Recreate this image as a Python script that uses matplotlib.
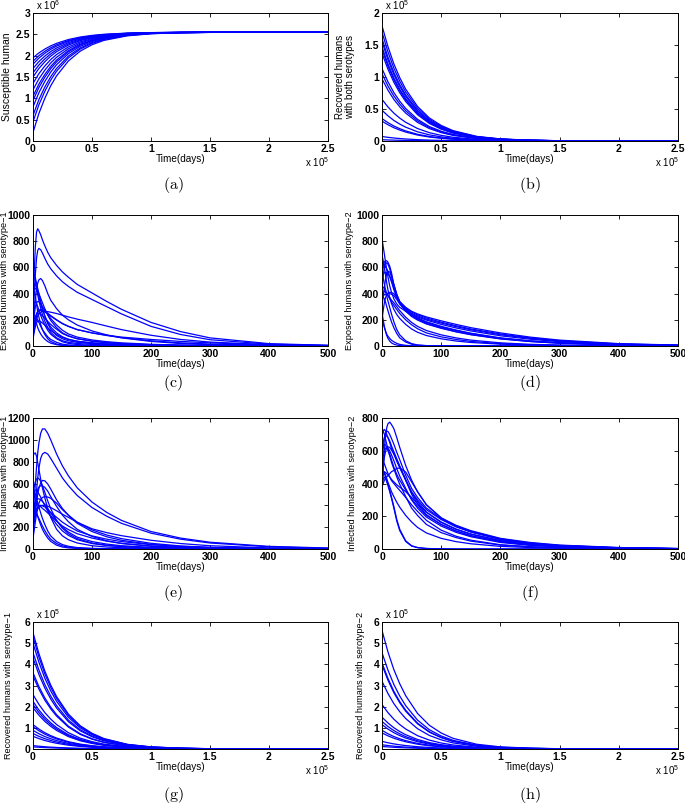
import numpy as np
import matplotlib
matplotlib.use("Agg")
import matplotlib.pyplot as plt

plt.rcParams["font.family"] = ["Liberation Sans", "DejaVu Sans"]
plt.rcParams["mathtext.fontset"] = "custom"
plt.rcParams["mathtext.rm"] = "Liberation Sans"
plt.rcParams["mathtext.it"] = "Liberation Sans:italic"

# ---- long runs: time in units of 1e5 days ----
t_long = [0, 0.05, 0.1, 0.15, 0.2, 0.3, 0.4, 0.5, 0.6, 0.8, 1.0, 1.25, 1.5, 2.0, 2.5]

# (a) susceptible humans, units of 1e6
s_start = [0.2, 0.45, 0.6, 0.8, 0.95, 1.05, 1.2, 1.35, 1.5, 1.6, 1.7, 1.8, 1.87, 1.95]
s_equil = 2.55
# share of the initial gap to equilibrium still left at each t_long
s_gap_left = [1, 0.81, 0.66, 0.535, 0.435, 0.287, 0.189, 0.125, 0.082, 0.036, 0.0155, 0.0055, 0.002, 0.0002, 0]

# recovered panels, units of 1e5; share of start value left at each t_long
rec_left = [1, 0.82, 0.67, 0.55, 0.45, 0.30, 0.20, 0.135, 0.09, 0.04, 0.018, 0.007, 0.0025, 0.0003, 0]
r_both_start = [1.8, 1.7, 1.6, 1.55, 1.47, 1.43, 1.37, 1.13, 1.05, 0.97, 0.65, 0.48, 0.35, 0.31, 0.07, 0.02]
r1_start = [5.5, 5.3, 5.0, 4.55, 4.3, 3.6, 3.45, 2.57, 2.25, 2.1, 1.95, 1.15, 1.05, 0.88, 0.73, 0.6, 0.16, 0.1]
r2_start = [5.6, 4.55, 4.07, 3.97, 3.2, 2.1, 1.5, 1.3, 1.15, 0.88, 0.76, 0.36, 0.2, 0.12]

# ---- short runs: time in days ----
t_short = [0, 2, 4, 6, 8, 10, 13, 16, 20, 25, 30, 40, 50, 60, 75, 100, 125, 150, 200, 250, 300, 400, 500]

exposed1 = [
    [300, 560, 760, 870, 895, 880, 850, 810, 765, 715, 675, 615, 565, 525, 470, 405, 340, 280, 180, 110, 62, 18, 5],
    [200, 380, 550, 670, 730, 745, 735, 710, 670, 625, 590, 535, 490, 455, 410, 355, 300, 245, 150, 88, 48, 14, 4],
    [150, 270, 360, 430, 480, 505, 515, 500, 460, 400, 350, 285, 235, 200, 160, 115, 85, 62, 35, 19, 10, 3, 1],
    [80, 120, 170, 205, 230, 245, 258, 264, 265, 262, 258, 248, 235, 222, 205, 180, 152, 125, 82, 50, 30, 10, 3],
    [120, 175, 220, 248, 265, 270, 272, 268, 260, 245, 228, 198, 170, 150, 125, 100, 80, 64, 40, 24, 15, 5, 2],
    [540, 545, 520, 480, 440, 400, 340, 290, 230, 170, 130, 80, 55, 40, 28, 18, 12, 9, 5, 3, 2, 1, 0],
    [460, 475, 470, 445, 410, 375, 320, 280, 230, 180, 145, 100, 70, 52, 36, 23, 15, 10, 6, 3, 2, 1, 0],
    [400, 425, 440, 435, 420, 400, 365, 330, 285, 235, 195, 140, 100, 78, 56, 36, 24, 16, 9, 5, 3, 1, 0],
    [300, 325, 340, 325, 300, 275, 235, 200, 160, 120, 90, 55, 32, 20, 11, 5, 3, 2, 1, 0, 0, 0, 0],
    [200, 220, 230, 215, 200, 180, 150, 125, 100, 70, 50, 28, 14, 8, 4, 2, 1, 0, 0, 0, 0, 0, 0],
    [100, 165, 210, 238, 250, 250, 242, 230, 212, 188, 165, 128, 95, 75, 55, 38, 27, 19, 10, 5, 3, 1, 0],
    [50, 105, 150, 178, 190, 192, 186, 175, 160, 138, 118, 88, 65, 50, 36, 24, 16, 11, 6, 3, 2, 1, 0],
    [150, 235, 300, 330, 340, 338, 322, 300, 275, 240, 210, 160, 120, 92, 68, 46, 33, 24, 13, 7, 4, 1, 0],
    [250, 225, 200, 170, 140, 118, 92, 72, 52, 34, 22, 10, 4, 2, 1, 0, 0, 0, 0, 0, 0, 0, 0],
    [500, 440, 380, 320, 260, 220, 165, 125, 88, 55, 35, 15, 6, 3, 1, 0, 0, 0, 0, 0, 0, 0, 0],
    [590, 545, 500, 445, 390, 345, 290, 240, 190, 140, 105, 62, 40, 28, 19, 12, 8, 6, 3, 2, 1, 0, 0],
    [100, 150, 200, 235, 260, 272, 280, 276, 268, 250, 232, 200, 172, 150, 125, 100, 82, 68, 50, 35, 24, 9, 4],
]

exposed2 = [
    [820, 760, 700, 640, 580, 530, 460, 410, 360, 320, 295, 265, 240, 222, 198, 165, 138, 115, 78, 52, 33, 13, 5],
    [550, 610, 640, 652, 650, 640, 610, 560, 470, 390, 340, 295, 265, 245, 222, 192, 165, 140, 100, 68, 45, 18, 7],
    [450, 540, 600, 630, 635, 625, 590, 540, 460, 385, 335, 290, 258, 238, 214, 182, 155, 130, 92, 62, 40, 16, 6],
    [650, 635, 620, 605, 590, 570, 530, 490, 430, 370, 325, 280, 250, 230, 205, 175, 148, 124, 86, 58, 37, 14, 5],
    [300, 380, 450, 510, 555, 570, 565, 530, 470, 395, 335, 280, 242, 215, 185, 150, 122, 98, 62, 40, 25, 9, 3],
    [400, 392, 390, 392, 395, 400, 400, 395, 385, 355, 320, 265, 225, 198, 168, 135, 108, 86, 54, 34, 21, 7, 2],
    [200, 270, 330, 370, 390, 405, 410, 408, 400, 370, 335, 278, 235, 205, 172, 138, 110, 88, 56, 35, 22, 8, 3],
    [580, 520, 470, 430, 400, 385, 370, 350, 330, 300, 270, 220, 180, 150, 118, 85, 62, 45, 24, 13, 7, 2, 1],
    [350, 390, 420, 415, 400, 385, 360, 335, 310, 278, 248, 200, 162, 132, 100, 70, 50, 35, 18, 9, 5, 1, 0],
    [700, 650, 600, 540, 480, 430, 370, 325, 280, 240, 210, 165, 130, 105, 80, 55, 38, 27, 14, 7, 4, 1, 0],
    [250, 200, 150, 110, 80, 58, 38, 24, 14, 7, 3, 1, 0, 0, 0, 0, 0, 0, 0, 0, 0, 0, 0],
    [200, 170, 140, 115, 90, 75, 58, 44, 32, 20, 12, 5, 2, 1, 0, 0, 0, 0, 0, 0, 0, 0, 0],
    [450, 450, 440, 415, 380, 345, 295, 245, 185, 125, 85, 40, 18, 8, 3, 1, 0, 0, 0, 0, 0, 0, 0],
    [380, 372, 360, 335, 300, 270, 225, 185, 140, 95, 62, 30, 14, 6, 2, 1, 0, 0, 0, 0, 0, 0, 0],
    [520, 545, 560, 562, 560, 552, 532, 500, 445, 380, 330, 275, 235, 210, 180, 145, 118, 95, 60, 38, 24, 9, 3],
]

infected1 = [
    [300, 450, 600, 750, 880, 970, 1060, 1100, 1100, 1060, 1000, 870, 760, 670, 560, 430, 335, 262, 160, 100, 62, 24, 9],
    [200, 300, 420, 540, 650, 740, 830, 870, 885, 870, 830, 740, 650, 580, 490, 380, 300, 235, 145, 90, 55, 20, 7],
    [150, 240, 330, 420, 500, 555, 605, 628, 625, 595, 550, 450, 370, 310, 235, 160, 112, 80, 42, 22, 12, 4, 1],
    [250, 350, 440, 500, 545, 568, 580, 578, 565, 530, 480, 390, 310, 250, 180, 115, 75, 50, 25, 13, 7, 2, 1],
    [850, 875, 880, 850, 790, 730, 640, 560, 470, 370, 290, 180, 120, 85, 55, 30, 18, 12, 6, 3, 2, 1, 0],
    [500, 570, 615, 640, 650, 645, 620, 580, 520, 440, 370, 260, 190, 140, 95, 55, 35, 23, 11, 5, 3, 1, 0],
    [200, 250, 300, 340, 365, 382, 395, 400, 400, 392, 380, 350, 318, 290, 245, 185, 150, 122, 80, 50, 30, 10, 4],
    [400, 410, 420, 415, 410, 400, 388, 372, 355, 330, 305, 255, 210, 178, 140, 100, 72, 52, 28, 15, 8, 2, 1],
    [550, 530, 500, 465, 420, 385, 330, 280, 225, 165, 120, 68, 40, 25, 13, 6, 3, 2, 1, 0, 0, 0, 0],
    [300, 320, 330, 320, 300, 280, 245, 210, 170, 125, 90, 50, 28, 17, 8, 3, 1, 0, 0, 0, 0, 0, 0],
    [450, 415, 380, 340, 300, 265, 220, 180, 140, 100, 70, 35, 18, 10, 5, 2, 1, 0, 0, 0, 0, 0, 0],
    [350, 400, 430, 450, 460, 460, 452, 435, 410, 370, 330, 260, 200, 155, 108, 68, 45, 30, 15, 8, 4, 1, 0],
    [100, 170, 250, 320, 380, 420, 455, 472, 480, 476, 465, 420, 360, 310, 245, 175, 128, 95, 52, 28, 15, 5, 2],
    [500, 525, 540, 535, 520, 505, 475, 440, 400, 345, 300, 225, 165, 125, 85, 50, 32, 21, 10, 5, 2, 1, 0],
    [220, 280, 330, 365, 390, 398, 400, 395, 385, 360, 335, 290, 245, 210, 165, 120, 90, 68, 40, 24, 14, 5, 2],
]

infected2 = [
    [350, 480, 600, 690, 740, 765, 775, 760, 735, 680, 620, 510, 420, 350, 270, 190, 145, 112, 65, 40, 24, 9, 3],
    [500, 610, 680, 712, 720, 718, 700, 675, 640, 590, 545, 450, 370, 315, 250, 185, 140, 108, 62, 37, 22, 8, 3],
    [700, 720, 730, 720, 700, 680, 650, 615, 580, 535, 495, 420, 350, 300, 240, 180, 135, 104, 60, 35, 20, 7, 2],
    [600, 650, 680, 690, 690, 682, 660, 630, 595, 550, 505, 425, 345, 290, 225, 165, 122, 92, 52, 31, 18, 6, 2],
    [740, 720, 700, 670, 640, 615, 580, 545, 500, 455, 420, 360, 305, 262, 205, 150, 110, 82, 45, 26, 15, 5, 2],
    [450, 510, 560, 595, 620, 625, 620, 605, 580, 545, 505, 420, 335, 275, 210, 150, 110, 80, 44, 25, 15, 5, 1],
    [380, 400, 420, 432, 440, 448, 460, 472, 480, 492, 495, 470, 410, 350, 270, 190, 140, 104, 58, 33, 20, 7, 2],
    [420, 450, 470, 468, 460, 452, 440, 425, 410, 392, 378, 350, 315, 278, 225, 162, 120, 90, 50, 29, 17, 6, 2],
    [550, 535, 520, 500, 480, 462, 440, 418, 400, 378, 358, 315, 270, 230, 175, 115, 78, 54, 26, 14, 8, 3, 1],
    [480, 478, 470, 452, 430, 408, 380, 350, 320, 285, 255, 205, 165, 132, 98, 65, 45, 32, 16, 9, 5, 2, 0],
    [470, 468, 460, 442, 420, 395, 360, 318, 260, 180, 120, 50, 20, 9, 3, 1, 0, 0, 0, 0, 0, 0, 0],
    [400, 425, 440, 430, 410, 388, 350, 310, 250, 170, 112, 46, 18, 8, 3, 1, 0, 0, 0, 0, 0, 0, 0],
    [600, 625, 640, 635, 620, 600, 570, 530, 490, 440, 395, 320, 250, 205, 150, 100, 70, 48, 24, 13, 7, 2, 1],
    [500, 560, 600, 615, 620, 615, 600, 575, 540, 490, 445, 370, 300, 250, 195, 140, 102, 75, 40, 22, 13, 4, 1],
]

# panel boxes in pixels (left, top, right, bottom) on a 685x805 canvas
W, H = 685, 805
col_lr = [(33, 328), (382, 678)]
row_tb = [(13, 141), (215, 346), (418, 549), (622, 749)]
cap_x = [173, 530]
cap_y = [185, 383, 593, 795]


def fmt(v):
    return "%g" % v


def panel(fig, r, c, xlim, xticks, ylim, yticks, ylabel, ylab_x, letter,
          xexp=None, yexp=None, ylab_size=7):
    l, rr = col_lr[c]
    t, b = row_tb[r]
    ax = fig.add_axes([l / W, 1 - b / H, (rr - l) / W, (b - t) / H])
    ax.set_xlim(*xlim)
    ax.set_ylim(*ylim)
    ax.set_xticks(xticks)
    ax.set_xticklabels([fmt(v) for v in xticks], fontweight="bold")
    ax.set_yticks(yticks)
    ax.set_yticklabels([fmt(v) for v in yticks], fontweight="bold")
    ax.tick_params(direction="in", top=True, right=True, length=3, width=0.6,
                   labelsize=7.5, pad=2)
    for sp in ax.spines.values():
        sp.set_linewidth(0.7)
    ax.set_xlabel("Time(days)", fontsize=7.2, labelpad=0)
    ax.set_ylabel(ylabel, fontsize=ylab_size, linespacing=1.1)
    ax.yaxis.set_label_coords(ylab_x, 0.5)
    if xexp:
        ax.text(1.005, -0.165, r"x 10$^{%d}$" % xexp, transform=ax.transAxes,
                ha="right", va="center", fontsize=7)
    if yexp:
        ax.text(0.01, 1.005, r"x 10$^{%d}$" % yexp, transform=ax.transAxes,
                ha="left", va="bottom", fontsize=7)
    fig.text(cap_x[c] / W, 1 - cap_y[r] / H, r"$\mathrm{(%s)}$" % letter,
             ha="center", va="center", fontsize=11.5, math_fontfamily="cm")
    return ax


def main():
    fig = plt.figure(figsize=(6.85, 8.05), dpi=100)
    blue = (0, 0, 1)
    lw = 0.9
    tl = np.array(t_long)
    long_ticks = [0, 0.5, 1, 1.5, 2, 2.5]
    short_ticks = [0, 100, 200, 300, 400, 500]

    # (a)
    ax = panel(fig, 0, 0, (0, 2.5), long_ticks, (0, 3), np.arange(0, 3.01, 0.5),
               "Susceptible human", -0.072, "a", xexp=5, yexp=6, ylab_size=7.5)
    gap = np.array(s_gap_left)
    for s0 in s_start:
        ax.plot(tl, s_equil - (s_equil - s0) * gap, color=blue, lw=lw)

    # (b)
    ax = panel(fig, 0, 1, (0, 2.5), long_ticks, (0, 2), np.arange(0, 2.01, 0.5),
               "Recovered humans\nwith both serotypes", -0.09, "b", xexp=5, yexp=5)
    left = np.array(rec_left)
    for r0 in r_both_start:
        ax.plot(tl, r0 * left, color=blue, lw=lw)

    # (c) and (d)
    ax = panel(fig, 1, 0, (0, 500), short_ticks, (0, 1000), range(0, 1001, 200),
               "Exposed humans with serotype\u22121", -0.083, "c", ylab_size=6.6)
    for y in exposed1:
        ax.plot(t_short, y, color=blue, lw=lw)
    ax = panel(fig, 1, 1, (0, 500), short_ticks, (0, 1000), range(0, 1001, 200),
               "Exposed humans with serotype\u22122", -0.095, "d", ylab_size=6.6)
    for y in exposed2:
        ax.plot(t_short, y, color=blue, lw=lw)

    # (e) and (f)
    ax = panel(fig, 2, 0, (0, 500), short_ticks, (0, 1200), range(0, 1201, 200),
               "Infected humans with serotype\u22121", -0.083, "e", ylab_size=6.6)
    for y in infected1:
        ax.plot(t_short, y, color=blue, lw=lw)
    ax = panel(fig, 2, 1, (0, 500), short_ticks, (0, 800), range(0, 801, 200),
               "Infected humans with serotype\u22122", -0.085, "f", ylab_size=6.6)
    for y in infected2:
        ax.plot(t_short, y, color=blue, lw=lw)

    # (g) and (h)
    ax = panel(fig, 3, 0, (0, 2.5), long_ticks, (0, 6), range(0, 7),
               "Recovered humans with serotype\u22121", -0.068, "g", xexp=5, yexp=5,
               ylab_size=6.6)
    for r0 in r1_start:
        ax.plot(tl, r0 * left, color=blue, lw=lw)
    ax = panel(fig, 3, 1, (0, 2.5), long_ticks, (0, 6), range(0, 7),
               "Recovered humans with serotype\u22122", -0.058, "h", xexp=5, yexp=5,
               ylab_size=6.6)
    for r0 in r2_start:
        ax.plot(tl, r0 * left, color=blue, lw=lw)

    fig.savefig("out.png", dpi=100)


if __name__ == '__main__':
    main()
